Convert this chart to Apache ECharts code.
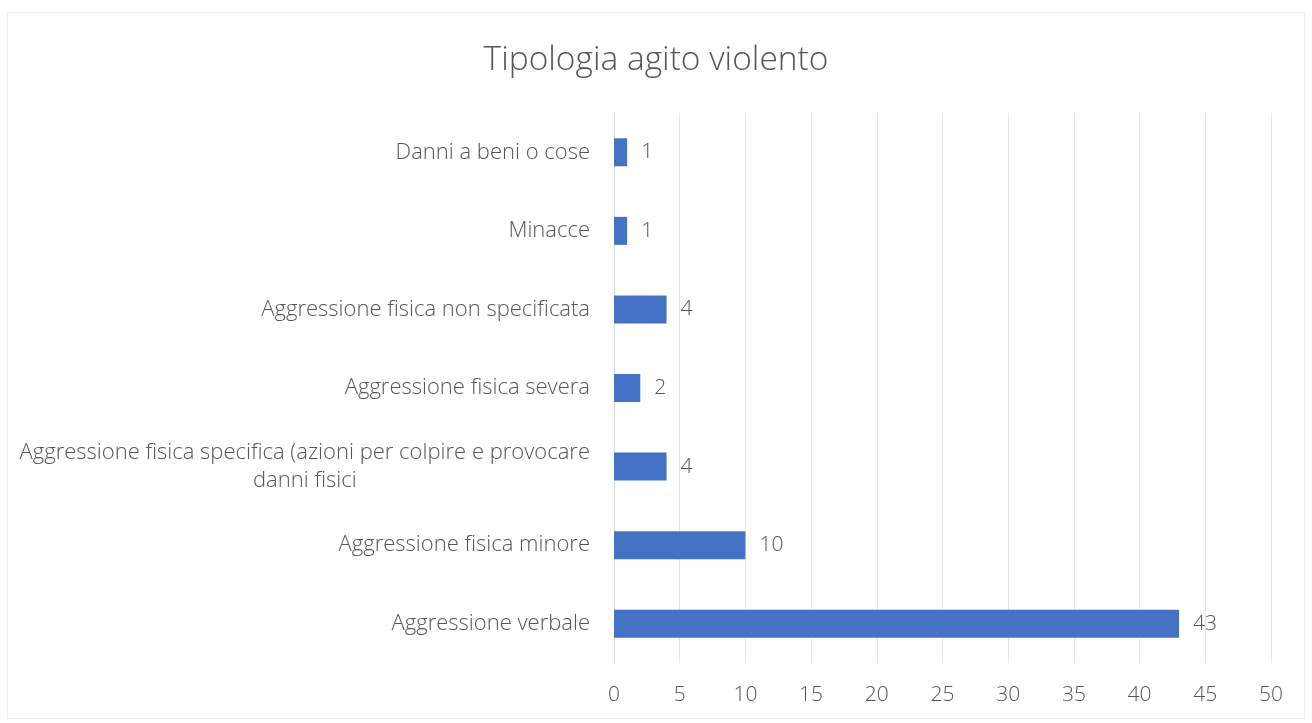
<!DOCTYPE html>
<html>
<head>
<meta charset="utf-8">
<script src="https://cdn.jsdelivr.net/npm/echarts@6/dist/echarts.min.js"></script>
<style>
  html, body { margin: 0; padding: 0; background: #ffffff; }
  #chart { width: 1312px; height: 723px; }
</style>
</head>
<body>
<div id="chart"></div>
<script>
// Categories listed bottom to top (category axis on the left starts at the bottom)
const categories = [
  'Aggressione verbale',
  'Aggressione fisica minore',
  'Aggressione fisica specifica (azioni per colpire e provocare danni fisici',
  'Aggressione fisica severa',
  'Aggressione fisica non specificata',
  'Minacce',
  'Danni a beni o cose'
];
const counts = [43, 10, 4, 2, 4, 1, 1];
const xTicks = [0, 5, 10, 15, 20, 25, 30, 35, 40, 45, 50];

const textColor = '#555555';
const fontFamily = '"Open Sans", "Noto Sans", sans-serif';
const fontWeight = 300;

const chart = echarts.init(document.getElementById('chart'));
chart.setOption({
  backgroundColor: '#ffffff',
  animation: false,
  title: {
    text: 'Tipologia agito violento',
    left: 'center',
    top: 38,
    textStyle: { fontFamily, fontSize: 33.5, fontWeight, color: textColor }
  },
  grid: { left: 614, right: 41, top: 113, bottom: 60, containLabel: false },
  xAxis: {
    type: 'value',
    min: xTicks[0],
    max: xTicks[xTicks.length - 1],
    interval: xTicks[1] - xTicks[0],
    axisLine: { show: false },
    axisTick: { show: false },
    splitLine: { show: true, lineStyle: { color: '#e4e4e4', width: 1 } },
    axisLabel: { fontFamily, fontSize: 21, fontWeight, color: textColor, margin: 22 }
  },
  yAxis: {
    type: 'category',
    data: categories,
    axisLine: { show: true, lineStyle: { color: '#dcdcdc' } },
    axisTick: { show: false },
    axisLabel: {
      fontFamily, fontSize: 22, fontWeight, color: textColor, margin: 24, lineHeight: 28,
      formatter: function (v) {
        const cut = v.indexOf(' danni fisici');
        if (cut > 0) {
          return '{a|' + v.slice(0, cut) + '}\n{b|' + v.slice(cut + 1) + '}';
        }
        return v;
      },
      rich: {
        a: { fontFamily, fontSize: 22, fontWeight, color: textColor, lineHeight: 28 },
        b: { fontFamily, fontSize: 22, fontWeight, color: textColor, lineHeight: 28, align: 'center' }
      }
    }
  },
  series: [{
    type: 'bar',
    data: counts,
    barWidth: 28,
    itemStyle: { color: '#4472c4' },
    label: {
      show: true,
      position: 'right',
      distance: 14,
      fontFamily, fontSize: 21, fontWeight, color: textColor
    }
  }],
  graphic: [{
    type: 'rect',
    shape: { x: 7.5, y: 12.5, width: 1297, height: 706 },
    style: { fill: 'none', stroke: '#eeeeee', lineWidth: 1 },
    silent: true
  }]
});
</script>
</body>
</html>
